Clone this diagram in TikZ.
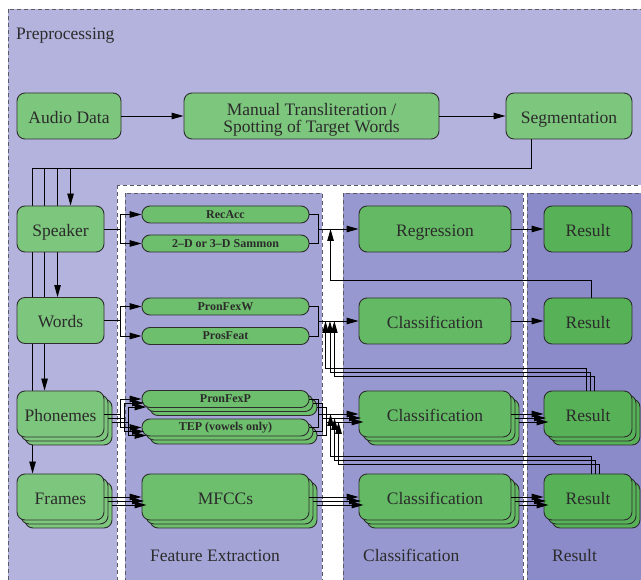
\documentclass[tikz,border=0pt]{standalone}
\usepackage{fontspec}
\setmainfont{Liberation Serif}
\usetikzlibrary{arrows.meta,calc,shadows}
\definecolor{preC}{HTML}{B3B3DE}
\definecolor{featC}{HTML}{A4A4D7}
\definecolor{clsC}{HTML}{9898D0}
\definecolor{resC}{HTML}{8B8BC9}
\definecolor{gA}{HTML}{7DC67D}
\definecolor{gB}{HTML}{6DBF6D}
\definecolor{gC}{HTML}{64BA64}
\definecolor{gD}{HTML}{57B157}
\definecolor{bord}{HTML}{2E2E2E}
\definecolor{txt}{HTML}{2B2B2B}
\definecolor{dashc}{HTML}{5A5A66}
\pgfdeclarelayer{bg}
\pgfdeclarelayer{bus}
\pgfsetlayers{bg,bus,main}
\begin{document}
\begin{tikzpicture}[x=1pt,y=-1pt,
  every node/.style={font=\fontsize{17.5}{17}\selectfont, text=txt},
  box/.style={draw=bord, line width=0.9pt, rounded corners=8pt, minimum height=46pt, inner sep=0pt, align=center, text height=14.5pt, text depth=0pt},
  pill/.style={draw=bord, line width=0.9pt, rounded corners=8pt, minimum height=17pt, minimum width=167pt, inner sep=0pt, font=\fontsize{12}{12}\selectfont\bfseries},
  stackof/.style={fill=#1,
    copy shadow={shadow xshift=8pt, shadow yshift=-8pt, fill=#1, draw=bord, line width=0.9pt},
    copy shadow={shadow xshift=4pt, shadow yshift=-4pt, fill=#1, draw=bord, line width=0.9pt}},
  arr/.style={line width=0.9pt, draw=black, -{Triangle[length=12pt,width=6.5pt]}},
  ln/.style={line width=0.9pt, draw=black},
  region/.style={draw=dashc, dash pattern=on 4pt off 3pt, line width=0.9pt},
  lab/.style={anchor=base west, inner sep=0pt}
]
\useasboundingbox (0,0) rectangle (641,580);
\clip (0,0) rectangle (641,580);

% labels
\node[lab] (lpre) at (16,39.5) {Preprocessing};
\node[lab] (lfeat) at (150,561.5) {Feature Extraction};
\node[lab] (lcls) at (363,561.5) {Classification};
\node[lab] (lres) at (552,561.5) {Result};

% top row
\node[box, fill=gA, minimum width=104pt] (audio) at (69,116) {Audio Data};
\node[box, fill=gA, minimum width=255pt, text height=33pt] (manual) at (311.5,116) {Manual Transliteration /\\Spotting of Target Words};
\node[box, fill=gA, minimum width=126pt] (seg) at (569,116) {Segmentation};

% left column
\node[box, fill=gA, minimum width=87pt] (speaker) at (60.5,229) {Speaker};
\node[box, fill=gA, minimum width=87pt] (words) at (60.5,320.5) {Words};
\node[box, stackof=gA, minimum width=87pt] (phon) at (60.5,414) {Phonemes};
\node[box, stackof=gA, minimum width=87pt] (frames) at (60.5,497) {Frames};

% features
\node[pill, fill=gB] (recacc) at (225.5,214.5) {RecAcc};
\node[pill, fill=gB] (sammon) at (225.5,243.5) {2--D or 3--D Sammon};
\node[pill, fill=gB] (pronfexw) at (225.5,306.5) {PronFexW};
\node[pill, fill=gB] (prosfeat) at (225.5,336) {ProsFeat};
\node[pill, stackof=gB] (pronfexp) at (225.5,399) {PronFexP};
\node[pill, stackof=gB] (tep) at (225.5,427.5) {TEP (vowels only)};
\node[box, stackof=gB, minimum width=167pt] (mfcc) at (225.5,497) {MFCCs};

% classification
\node[box, fill=gC, minimum width=152pt] (regression) at (435,229) {Regression};
\node[box, fill=gC, minimum width=152pt] (class1) at (435,321) {Classification};
\node[box, stackof=gC, minimum width=152pt] (class2) at (435,414) {Classification};
\node[box, stackof=gC, minimum width=152pt] (class3) at (435,497) {Classification};

% results
\node[box, fill=gD, minimum width=88pt] (res1) at (588,229) {Result};
\node[box, fill=gD, minimum width=88pt] (res2) at (588,321) {Result};
\node[box, stackof=gD, minimum width=88pt] (res3) at (588,414) {Result};
\node[box, stackof=gD, minimum width=88pt] (res4) at (588,497) {Result};

% backgrounds
\begin{pgfonlayer}{bg}
\path[region, fill=preC] (8,9) rectangle (700,650);
\path[region, fill=white] (117,185) rectangle (700,650);
\path[region, fill=featC] (125,193) rectangle (322,650);
\path[region, fill=clsC] (343,193) rectangle (523,650);
\path[region, fill=resC] (527,193) rectangle (700,650);
\end{pgfonlayer}

% segmentation bus
\begin{pgfonlayer}{bus}
\coordinate (busR) at ($(seg.south west)+(26,29)$);
\draw[arr] ($(seg.south west)+(26,0)$) -- (busR) -| ($(frames.north west)+(16,0)$);
\draw[arr] ($(busR -| phon.north west)+(28,0)$) -- ($(phon.north west)+(28,0)$);
\draw[arr] ($(busR -| words.north west)+(41,0)$) -- ($(words.north west)+(41,0)$);
\draw[arr] ($(busR -| speaker.north west)+(54,0)$) -- ($(speaker.north west)+(54,0)$);
\end{pgfonlayer}

% top row edges
\draw[arr] (audio) -- (manual);
\draw[arr] (manual) -- (seg);

% row 1
\draw[arr] (speaker.east) -- ++(16,0) |- (recacc.west);
\draw[arr] (speaker.east) -- ++(16,0) |- (sammon.west);
\draw[ln] (recacc.east) -- ++(9,0) |- (sammon.east);
\coordinate (b1) at ($(recacc.east)+(9,0)$);
\draw[arr] (b1 |- regression.west) -- (regression.west);
\draw[arr] (regression) -- (res1);
\draw[arr] ($(res2.north)+(3,0)$) -- ++(0,-17) -| ($(regression.west)+(-28,0)$);

% row 2
\draw[arr] (words.east) -- ++(16,0) |- (pronfexw.west);
\draw[arr] (words.east) -- ++(16,0) |- (prosfeat.west);
\draw[ln] (pronfexw.east) -- ++(9,0) |- (prosfeat.east);
\coordinate (b2) at ($(pronfexw.east)+(9,0)$);
\draw[arr] (b2 |- class1.west) -- (class1.west);
\draw[arr] (class1) -- (res2);

% rows 3 and 4, three layers
\foreach \k in {0,1,2} {
  \draw[arr] ($(phon.east)+(4*\k,4*\k)$) -- ++(16,0) |- ($(pronfexp.west)+(2.5*\k,4*\k)$);
  \draw[arr] ($(phon.east)+(4*\k,4*\k)$) -- ++(16,0) |- ($(tep.west)+(2.5*\k,4*\k)$);
  \draw[ln] ($(pronfexp.east)+(4*\k,4*\k)$) -- ++(9,0) |- ($(tep.east)+(4*\k,4*\k)$);
  \draw[arr] ($(pronfexp.east |- class2.west)+(9+4*\k,4*\k)$) -- ($(class2.west)+(2.5*\k,4*\k)$);
  \draw[arr] ($(class2.east)+(4*\k,4*\k)$) -- ($(res3.west)+(2.5*\k,4*\k)$);
  \draw[arr] ($(res3.north)+(-2+4.4*\k,0)$) -- ++(0,-22+4*\k) -| ($(class1.west)+(-33+4.4*\k,0)$);
  \draw[arr] ($(res4.north)+(3+4*\k,0)$) -- ++(0,-17+4*\k) -| ($(class2.west)+(-28+4*\k,4*\k)$);
  \draw[arr] ($(frames.east)+(4*\k,4*\k)$) -- ($(mfcc.west)+(2.5*\k,4*\k)$);
  \draw[arr] ($(mfcc.east)+(4*\k,4*\k)$) -- ($(class3.west)+(2.5*\k,4*\k)$);
  \draw[arr] ($(class3.east)+(4*\k,4*\k)$) -- ($(res4.west)+(2.5*\k,4*\k)$);
}
\end{tikzpicture}
\end{document}
